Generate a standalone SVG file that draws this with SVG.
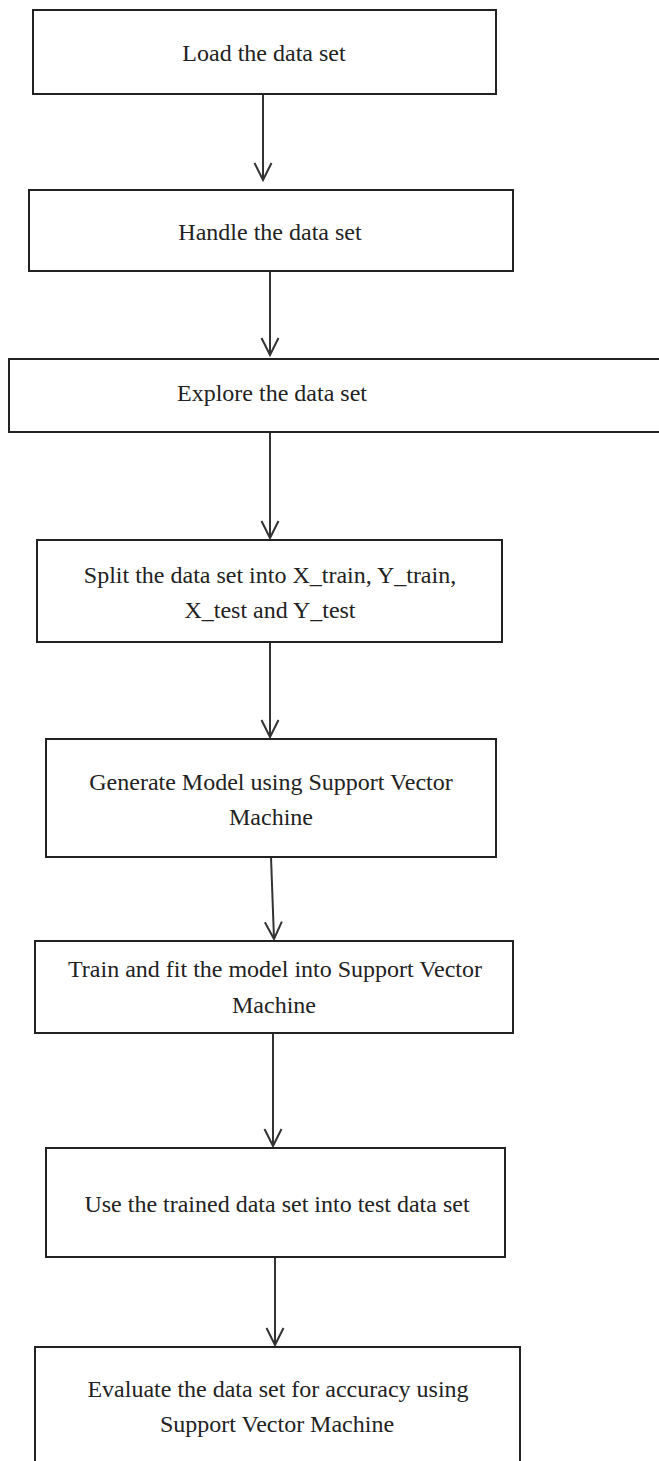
<svg xmlns="http://www.w3.org/2000/svg" width="659" height="1461" viewBox="0 0 659 1461">
<style>
.box{fill:#fff;stroke:#222;stroke-width:2}
.t{font-family:"Liberation Serif","Times New Roman",serif;font-size:24px;fill:#222;text-anchor:middle}
.c{stroke:#333;stroke-width:2;fill:none;marker-end:url(#ah)}
</style>
<defs>
<marker id="ah" markerUnits="userSpaceOnUse" markerWidth="20" markerHeight="20" refX="0" refY="0" orient="auto" overflow="visible">
<path d="M-17,-8.5 L0,0 L-17,8.5" fill="none" stroke="#333" stroke-width="2"/>
</marker>
</defs>
<rect width="659" height="1461" fill="#fff"/>
<g id="connectors">
<line class="c" x1="263" y1="94" x2="263" y2="180"/>
<line class="c" x1="270" y1="271" x2="270" y2="355"/>
<line class="c" x1="270" y1="432" x2="270" y2="538"/>
<line class="c" x1="270" y1="642" x2="270" y2="737"/>
<line class="c" x1="271" y1="857" x2="274" y2="939"/>
<line class="c" x1="273" y1="1033" x2="273" y2="1146"/>
<line class="c" x1="275" y1="1257" x2="275" y2="1345"/>
</g>
<g id="n1"><rect class="box" x="33" y="10" width="463" height="84"/><text class="t" x="264" y="61">Load the data set</text></g>
<g id="n2"><rect class="box" x="29" y="190" width="484" height="81"/><text class="t" x="270" y="240">Handle the data set</text></g>
<g id="n3"><rect class="box" x="9" y="359" width="670" height="73"/><text class="t" x="272" y="401">Explore the data set</text></g>
<g id="n4"><rect class="box" x="37" y="540" width="465" height="102"/><text class="t" x="270" y="583">Split the data set into X_train, Y_train,</text><text class="t" x="270" y="618">X_test and Y_test</text></g>
<g id="n5"><rect class="box" x="46" y="739" width="450" height="118"/><text class="t" x="271" y="790">Generate Model using Support Vector</text><text class="t" x="271" y="825">Machine</text></g>
<g id="n6"><rect class="box" x="35" y="941" width="478" height="92"/><text class="t" x="275" y="977">Train and fit the model into Support Vector</text><text class="t" x="274" y="1013">Machine</text></g>
<g id="n7"><rect class="box" x="46" y="1148" width="459" height="109"/><text class="t" x="277" y="1212">Use the trained data set into test data set</text></g>
<g id="n8"><rect class="box" x="35" y="1347" width="485" height="130"/><text class="t" x="278" y="1397">Evaluate the data set for accuracy using</text><text class="t" x="277" y="1432">Support Vector Machine</text></g>
</svg>
